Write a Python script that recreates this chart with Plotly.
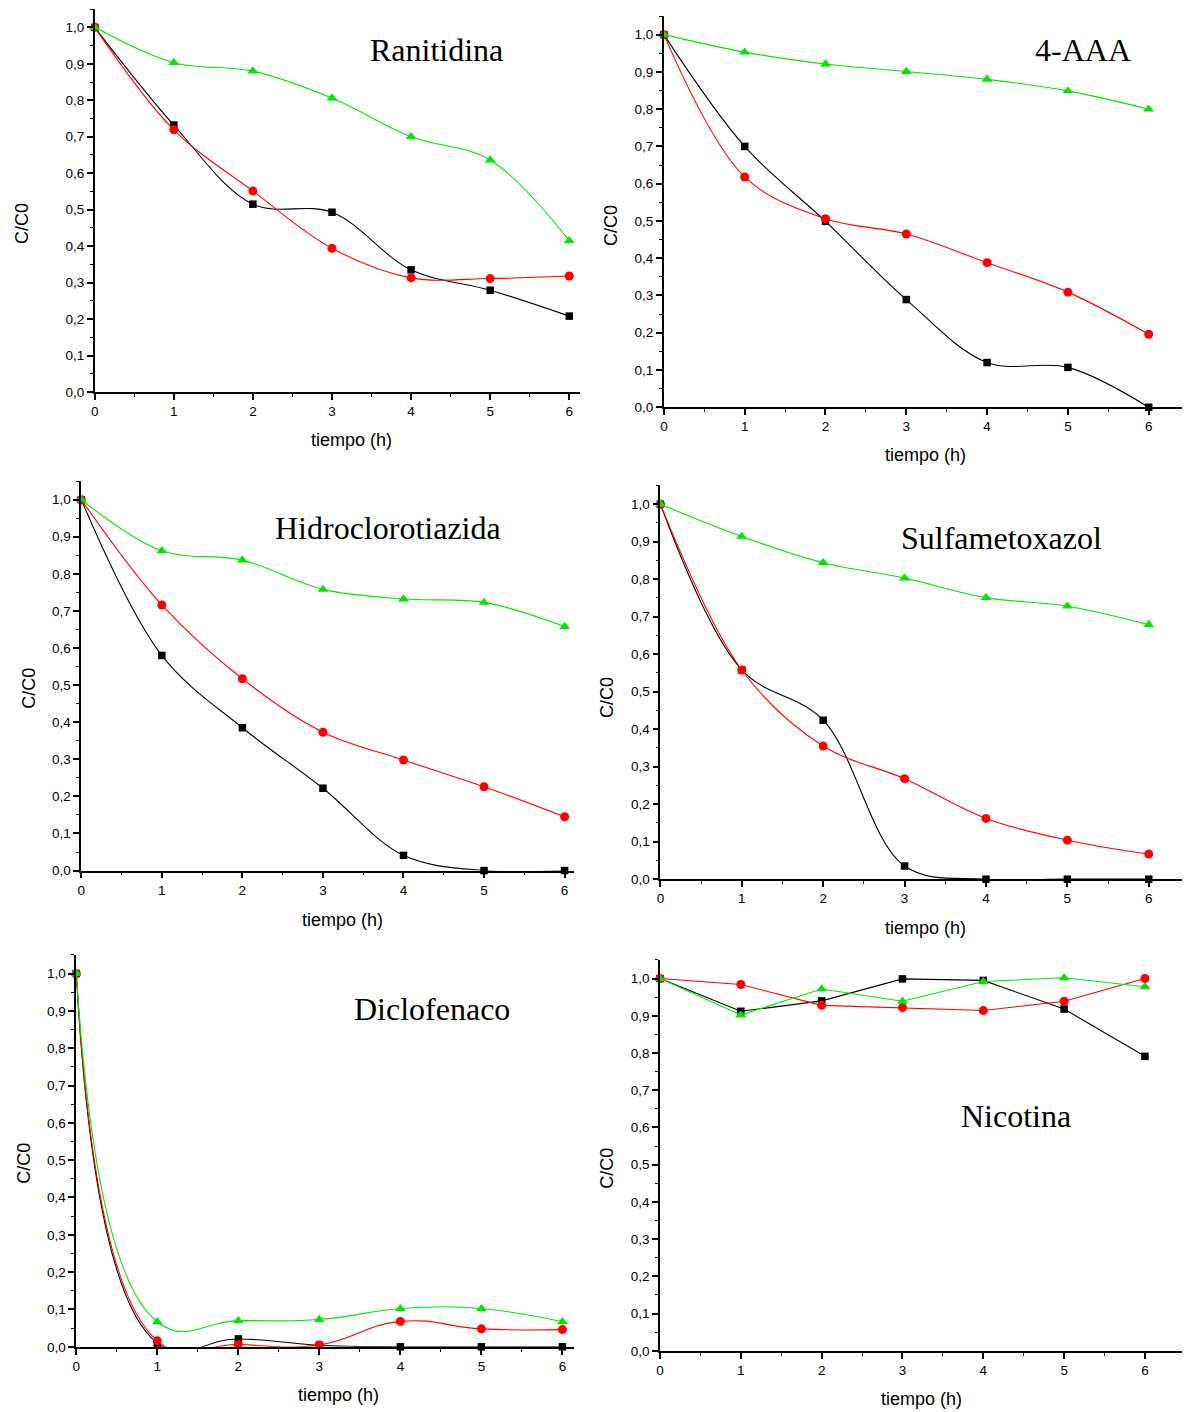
import plotly.graph_objects as go

# ---------------- data ----------------
tiempo = [0, 1, 2, 3, 4, 5, 6]

ranitidina_negro = [1.0, 0.732, 0.515, 0.493, 0.335, 0.279, 0.208]
ranitidina_rojo = [1.0, 0.719, 0.551, 0.394, 0.313, 0.311, 0.318]
ranitidina_verde = [1.0, 0.903, 0.880, 0.806, 0.700, 0.636, 0.415]

aaa_negro = [1.0, 0.700, 0.499, 0.289, 0.120, 0.107, 0.0]
aaa_rojo = [1.0, 0.618, 0.506, 0.465, 0.388, 0.309, 0.196]
aaa_verde = [1.0, 0.953, 0.921, 0.901, 0.880, 0.849, 0.800]

hct_negro = [1.0, 0.580, 0.385, 0.222, 0.041, 0.0, 0.0]
hct_rojo = [1.0, 0.716, 0.517, 0.373, 0.298, 0.226, 0.145]
hct_verde = [1.0, 0.862, 0.837, 0.758, 0.732, 0.723, 0.658]

smx_negro = [1.0, 0.558, 0.424, 0.035, 0.0, 0.0, 0.0]
smx_rojo = [1.0, 0.558, 0.355, 0.268, 0.162, 0.104, 0.067]
smx_verde = [1.0, 0.914, 0.844, 0.803, 0.751, 0.728, 0.679]

dcf_negro = [1.0, 0.010, 0.021, 0.004, 0.0, 0.0, 0.0]
dcf_rojo = [1.0, 0.016, 0.006, 0.005, 0.068, 0.048, 0.046]
dcf_verde = [1.0, 0.067, 0.070, 0.073, 0.102, 0.102, 0.067]

nic_negro = [1.0, 0.912, 0.940, 0.999, 0.995, 0.918, 0.791]
nic_rojo = [1.0, 0.984, 0.928, 0.922, 0.914, 0.939, 1.0]
nic_verde = [1.0, 0.902, 0.972, 0.939, 0.992, 1.002, 0.978]

titulos = ["Ranitidina", "4-AAA", "Hidroclorotiazida", "Sulfametoxazol", "Diclofenaco", "Nicotina"]
series = [
    (ranitidina_negro, ranitidina_rojo, ranitidina_verde),
    (aaa_negro, aaa_rojo, aaa_verde),
    (hct_negro, hct_rojo, hct_verde),
    (smx_negro, smx_rojo, smx_verde),
    (dcf_negro, dcf_rojo, dcf_verde),
    (nic_negro, nic_rojo, nic_verde),
]
x_label = "tiempo (h)"
y_label = "C/C0"

# ---------------- layout geometry (target picture pixels) ----------------
OFFX, OFFY = 9, 8      # default body margin of the html page
SY = 0.9945            # observed vertical scale of the photographed page
W, H = 1190 - OFFX, 1404
# x0 px, px per unit x, xmax, y0 px (value 0), px per unit y, ymax
panels = [
    dict(x0=92.0, px=79.36, xmax=6.13, y0=392.0, py=364.7, ymax=1.05,
         title=(435, 50), xt=(350, 440), yt=(19, 223), shape="spline", sm=1.0),
    dict(x0=663.1, px=81.08, xmax=6.47, y0=407.3, py=372.7, ymax=1.05,
         title=(1084, 50), xt=(926, 455), yt=(610, 225), shape="spline", sm=1.0),
    dict(x0=78.5, px=80.83, xmax=6.12, y0=870.7, py=371.0, ymax=1.05,
         title=(386, 528), xt=(341, 920), yt=(26, 688), shape="spline", sm=1.0),
    dict(x0=659.6, px=81.67, xmax=6.45, y0=879.3, py=375.0, ymax=1.05,
         title=(1002, 538), xt=(926, 928), yt=(606, 697), shape="spline", sm=1.0),
    dict(x0=73.5, px=81.3, xmax=6.14, y0=1347.0, py=373.3, ymax=1.05,
         title=(430, 1009), xt=(337, 1395), yt=(21, 1163), shape="spline", sm=1.3),
    dict(x0=659.2, px=81.1, xmax=6.5, y0=1351.0, py=372.3, ymax=1.05,
         title=(1016, 1116), xt=(922, 1399), yt=(606, 1168), shape="linear", sm=0),
]


def fx(px):
    return (px - OFFX) / W


def fy(py):
    return 1 - (py / SY - OFFY) / H


colors = ["#000000", "#ff0000", "#00e600"]
symbols = ["square", "circle", "triangle-up"]
msizes = [7.5, 9, 9.5]

fig = go.Figure()
layout = dict(
    width=W, height=H, margin=dict(l=0, r=0, t=0, b=0, pad=0),
    paper_bgcolor="white", plot_bgcolor="white",
    showlegend=False, separators=", ",
    font=dict(family="Liberation Sans, Arial", color="black", size=14),
)
annotations = []

for i, (p, (neg, roj, ver)) in enumerate(zip(panels, series)):
    n = i + 1
    xa = "x" if n == 1 else f"x{n}"
    ya = "y" if n == 1 else f"y{n}"
    xend = p["x0"] + p["xmax"] * p["px"]
    ytop = p["y0"] - p["ymax"] * p["py"]
    common = dict(
        showgrid=False, zeroline=False, showline=True, linecolor="black",
        linewidth=1.6, ticks="outside", ticklen=6, tickwidth=1.6, tickcolor="black",
        tickfont=dict(family="Liberation Sans, Arial", size=13.5, color="black"),
        fixedrange=True,
    )
    layout["xaxis" if n == 1 else f"xaxis{n}"] = dict(
        common, domain=[fx(p["x0"]), min(fx(xend), 1.0)], range=[0, p["xmax"]],
        anchor=ya, tickmode="linear", tick0=0, dtick=1, tickformat="d",
        minor=dict(ticks="outside", ticklen=3, tickwidth=1.4, tickcolor="black", dtick=0.5, tick0=0),
    )
    layout["yaxis" if n == 1 else f"yaxis{n}"] = dict(
        common, domain=[fy(p["y0"]), fy(ytop)], range=[0, p["ymax"]],
        anchor=xa, tickmode="linear", tick0=0, dtick=0.1, tickformat=".1f",
        minor=dict(ticks="outside", ticklen=3, tickwidth=1.4, tickcolor="black", dtick=0.05, tick0=0),
    )
    for vals, c, s, ms in zip((neg, roj, ver), colors, symbols, msizes):
        line = dict(color=c, width=1.1, shape=p["shape"])
        if p["shape"] == "spline":
            line["smoothing"] = p["sm"]
        fig.add_trace(go.Scatter(
            x=tiempo, y=vals, mode="lines+markers", xaxis=xa, yaxis=ya,
            line=line, marker=dict(symbol=s, size=ms, color=c, line=dict(width=0)),
            cliponaxis=False,
        ))
    tx, ty = p["title"]
    annotations.append(dict(
        text=titulos[i], x=fx(tx), y=fy(ty), xref="paper", yref="paper",
        xanchor="center", yanchor="middle", showarrow=False,
        font=dict(family="Liberation Serif, Times New Roman", size=32, color="black"),
    ))
    ax_, ay_ = p["xt"]
    annotations.append(dict(
        text=x_label, x=fx(ax_), y=fy(ay_), xref="paper", yref="paper",
        xanchor="center", yanchor="middle", showarrow=False,
        font=dict(family="Liberation Sans, Arial", size=18, color="black"),
    ))
    bx, by = p["yt"]
    annotations.append(dict(
        text=y_label, x=fx(bx), y=fy(by), xref="paper", yref="paper",
        xanchor="center", yanchor="middle", showarrow=False, textangle=-90,
        font=dict(family="Liberation Sans, Arial", size=18, color="black"),
    ))

layout["annotations"] = annotations
fig.update_layout(**layout)
fig.write_html("out.html")
